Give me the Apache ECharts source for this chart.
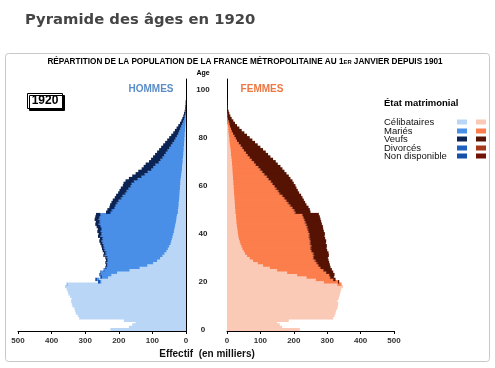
<!DOCTYPE html>
<html><head><meta charset="utf-8">
<script src="https://cdn.jsdelivr.net/npm/echarts@6/dist/echarts.min.js"></script>
<style>html,body{margin:0;padding:0;background:#fff}#c{width:495px;height:368px}</style>
</head><body><div id="c"></div>
<script>
// Age categories (0..104) and tick labels
const ages = Array.from({length:105}, (_, i) => String(i));
const ageTickLabels = ['0','20','40','60','80','100'];
const ageMinorTicks = ['0','10','20','30','40','50','60','70','80','90','100'];
const xTickValues = [0,100,200,300,400,500];

// HOMMES (milliers), index = age
const menSingle = [225,170,160,150,185,318,322,328,330,332,338,340,342,340,345,350,352,355,360,353,
  252,258,232,222,205,168,138,115,98,86,
  77,70,64,58,54,50,46,44,42,40,
  38,36,35,33,32,30,29,28,27,24,
  24,23,22,22,21,20,20,19,19,18,
  18,17,17,16,15,14,13,12,12,11,
  10,10,9,8,8,7,7,6,6,5,
  5,4,4,3,3,2,2,1,1,1,
  0,0,0,0,0,0,0,0,0,0,0];
const menMarried = [0,0,0,0,0,0,0,0,0,0,0,0,0,0,0,0,0,0,0,2,
  4,6,18,32,49,74,98,118,136,146,
  156,169,172,182,188,193,200,205,204,212,
  211,217,215,220,225,224,228,227,225,199,
  194,188,186,181,177,171,166,160,155,151,
  145,143,136,126,116,107,99,90,84,79,
  70,65,60,56,51,47,42,38,34,30,
  26,23,19,17,14,12,9,7,5,3,
  2,1,1,0,0,0,0,0,0,0,0];
const menWidowed = [0,0,0,0,0,0,0,0,0,0,0,0,0,0,0,0,0,0,0,0,0,0,0,0,
  1,1,2,3,3,3,
  4,4,5,5,5,6,6,6,7,7,
  8,8,9,10,10,11,12,12,13,12,
  13,14,15,16,17,18,19,20,21,22,
  23,24,25,26,27,27,28,28,28,29,
  29,28,28,27,26,25,24,23,22,21,
  19,17,15,13,11,9,7,6,5,4,
  4,3,2,2,1,1,0,0,0,0,0];
const menDivorced = [0,0,0,0,0,0,0,0,0,0,0,0,0,0,0,0,0,0,0,0,0,0,0,0,
  1,2,2,2,3,3,
  3,3,3,3,3,3,3,3,3,3,
  3,3,3,3,3,3,3,3,3,3,
  3,3,3,3,3,3,3,3,3,3,
  2,2,2,2,2,2,2,2,2,1,
  1,1,1,1,1,1,1,1,0,0,
  0,0,0,0,0,0,0,0,0,0,
  0,0,0,0,0,0,0,0,0,0,0];
const menNA = [0,0,0,0,0,0,0,0,0,0,0,0,0,0,0,0,0,0,0,0,6,6,5,4];

// FEMMES (milliers), index = age
const womenSingle = [218,165,158,150,185,318,322,325,326,330,
  332,333,330,334,336,338,340,342,347,330,
  290,266,238,210,180,150,128,108,92,78,
  68,60,54,50,46,43,40,38,36,34,
  33,32,31,30,29,28,28,27,27,25,
  25,24,24,23,23,22,22,21,21,20,
  20,19,19,18,18,17,17,16,16,15,
  15,14,13,12,12,11,10,9,8,7,
  7,6,5,4,4,3,2,2,1,1,
  1,0,0,0,0,0,0,0,0,0,0];
const womenMarried = [0,0,0,0,0,0,0,0,0,0,0,0,0,0,0,0,0,0,0,13,
  42,52,70,95,116,137,150,164,175,184,
  189,198,202,201,203,207,207,210,210,210,
  212,210,209,208,206,204,202,200,197,177,
  174,170,163,158,153,148,142,135,130,125,
  121,116,111,105,100,93,87,82,76,70,
  65,59,54,49,44,39,35,31,27,23,
  19,16,13,10,8,6,5,3,2,1,
  1,0,0,0,0,0,0,0,0,0,0];
const womenWidowed = [0,0,0,0,0,0,0,0,0,0,0,0,0,0,0,0,0,0,0,0,
  4,7,11,16,21,25,29,33,36,39,
  42,44,45,46,46,46,46,46,45,45,
  45,45,45,46,46,47,47,48,48,45,
  46,47,48,50,51,53,55,57,58,60,
  62,63,64,65,65,66,66,66,66,66,
  65,64,62,61,59,57,54,51,49,46,
  42,38,34,30,25,21,17,14,11,8,
  5,5,3,2,1,1,0,0,0,0,0];
const womenDivorced = [0,0,0,0,0,0,0,0,0,0,0,0,0,0,0,0,0,0,0,0,0,0,
  1,1,1,2,3,3,3,3,
  3,3,3,3,3,3,3,3,3,3,
  3,3,3,3,3,3,3,3,3,3,
  3,3,3,3,3,3,3,3,3,3,
  2,2,2,2,2,2,2,2,2,1,
  1,1,1,1,1,1,1,1,0,0,
  0,0,0,0,0,0,0,0,0,0,
  0,0,0,0,0,0,0,0,0,0,0];
const womenNA = [];

const statusNames = ['Célibataires','Mariés','Veufs','Divorcés','Non disponible'];
const menColors = ['#BAD6F7','#4A8FE7','#0C2454','#1E5FC0','#1750A8'];
const womenColors = ['#FACAB7','#FC7E4C','#561303','#A4391B','#6E1306'];

const menData = [menSingle, menMarried, menWidowed, menDivorced, menNA];
const womenData = [womenSingle, womenMarried, womenWidowed, womenDivorced, womenNA];
const stackOrder = [0,1,3,2,4];

const FONT = 'Liberation Sans, Arial, sans-serif';
const series = [];
stackOrder.forEach(k => {
  series.push({type:'bar', name: statusNames[k], stack:'H', xAxisIndex:0, yAxisIndex:0,
    data: menData[k], barWidth: 3.4, itemStyle:{color: menColors[k]}, silent:true});
});
stackOrder.forEach(k => {
  series.push({type:'bar', name: statusNames[k] + ' (F)', stack:'F', xAxisIndex:1, yAxisIndex:1,
    data: womenData[k], barWidth: 3.4, itemStyle:{color: womenColors[k]}, silent:true});
});

const xAxisCommon = {type:'value', min:0, max:500, interval:100,
  axisLine:{show:true, lineStyle:{color:'#000', width:1}},
  axisTick:{show:true, length:3, lineStyle:{color:'#000'}},
  splitLine:{show:false},
  axisLabel:{fontSize:8, fontWeight:'bold', color:'#333', margin:6, fontFamily: FONT,
    formatter: v => xTickValues.includes(v) ? String(v) : ''}};

const legendItems = [];
const legendY = [122,131,139,148,156];
statusNames.forEach((n, i) => {
  legendItems.push({type:'text', x:384, y:legendY[i], style:{text:n, font:'9.5px ' + FONT, fill:'#111', textVerticalAlign:'middle'}});
  legendItems.push({type:'rect', shape:{x:457, y:legendY[i]-2.5, width:10, height:5}, style:{fill: menColors[i]}});
  legendItems.push({type:'rect', shape:{x:476, y:legendY[i]-2.5, width:10, height:5}, style:{fill: womenColors[i]}});
});

const chart = echarts.init(document.getElementById('c'), null, {renderer:'canvas'});
chart.setOption({
  animation:false,
  backgroundColor:'#fff',
  grid:[
    {left:18, top:79, width:168, height:252},
    {left:227, top:79, width:167, height:252}
  ],
  xAxis:[
    Object.assign({gridIndex:0, inverse:true}, xAxisCommon),
    Object.assign({gridIndex:1}, xAxisCommon)
  ],
  yAxis:[
    {type:'category', gridIndex:0, position:'right', data: ages, boundaryGap:true,
      axisLine:{lineStyle:{color:'#000'}},
      axisTick:{alignWithLabel:true, length:3, interval:(i, v) => ageMinorTicks.includes(v), lineStyle:{color:'#000'}},
      axisLabel:{interval:(i, v) => ageTickLabels.includes(v), margin:17, align:'center',
        fontSize:8, fontWeight:'bold', color:'#222', fontFamily: FONT}},
    {type:'category', gridIndex:1, position:'left', data: ages, boundaryGap:true,
      axisLine:{lineStyle:{color:'#000'}},
      axisTick:{alignWithLabel:true, length:3, interval:(i, v) => ageMinorTicks.includes(v), lineStyle:{color:'#000'}},
      axisLabel:{show:false}}
  ],
  series: series,
  graphic:[
    {type:'rect', shape:{x:5.5, y:53.5, width:484, height:308, r:3}, style:{fill:'none', stroke:'#c8c8c8', lineWidth:1}},
    {type:'text', x:25, y:20, style:{text:'Pyramide des âges en 1920', font:'bold 14.8px DejaVu Sans, Verdana, sans-serif', fill:'#454545', textVerticalAlign:'middle'}},
    {type:'text', x:245, y:62, style:{
      text:'{a|RÉPARTITION DE LA POPULATION DE LA FRANCE MÉTROPOLITAINE AU 1}{b|ER}{a| JANVIER DEPUIS 1901}',
      textAlign:'center', textVerticalAlign:'middle',
      rich:{a:{font:'bold 8.2px Liberation Sans Narrow, Arial Narrow, sans-serif', fill:'#000'},
            b:{font:'bold 5.8px Liberation Sans Narrow, Arial Narrow, sans-serif', fill:'#000'}}}},
    {type:'rect', shape:{x:27.5, y:93.5, width:35, height:15}, style:{fill:'#fff', stroke:'#000', lineWidth:1, shadowColor:'#000', shadowOffsetX:2, shadowOffsetY:2, shadowBlur:0}},
    {type:'text', x:45, y:101, style:{text:'1920', font:'bold 12px ' + FONT, fill:'#000', textAlign:'center', textVerticalAlign:'middle'}},
    {type:'text', x:151, y:89, style:{text:'HOMMES', font:'bold 10px ' + FONT, fill:'#5B8DC7', textAlign:'center', textVerticalAlign:'middle'}},
    {type:'text', x:262, y:89, style:{text:'FEMMES', font:'bold 10px ' + FONT, fill:'#EC7743', textAlign:'center', textVerticalAlign:'middle'}},
    {type:'text', x:203, y:73, style:{text:'Age', font:'bold 7px ' + FONT, fill:'#000', textAlign:'center', textVerticalAlign:'middle'}},
    {type:'text', x:207, y:354, style:{text:'Effectif  (en milliers)', font:'bold 10px ' + FONT, fill:'#111', textAlign:'center', textVerticalAlign:'middle'}},
    {type:'text', x:384, y:103, style:{text:'État matrimonial', font:'bold 9.5px ' + FONT, fill:'#000', textVerticalAlign:'middle'}}
  ].concat(legendItems)
});
</script></body></html>
